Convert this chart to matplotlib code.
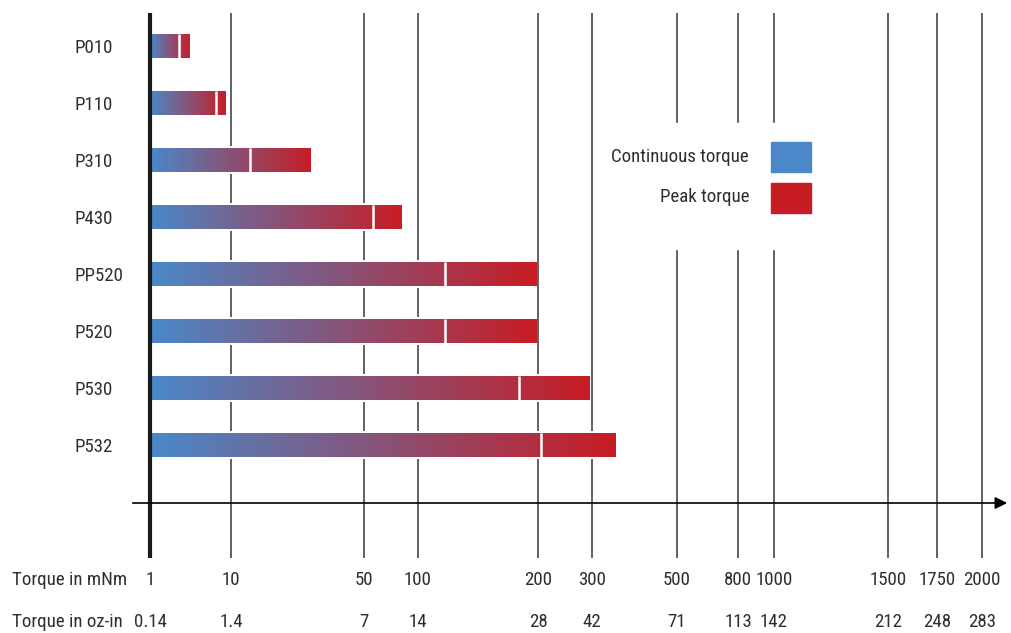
import matplotlib
matplotlib.use("Agg")
import matplotlib.pyplot as plt
import numpy as np
from matplotlib import font_manager as fm
from matplotlib.colors import LinearSegmentedColormap
from matplotlib.patches import Rectangle

# data
models = ['P010', 'P110', 'P310', 'P430', 'PP520', 'P520', 'P530', 'P532']
continuous = [2.3, 6.5, 12.6, 56, 117, 117, 179, 205]
peak = [3.2, 8.9, 26.6, 82, 199, 199, 296, 347]

ticks_mnm = [1, 10, 50, 100, 200, 300, 500, 800, 1000, 1500, 1750, 2000]
ticks_oz = ['0.14', '1.4', '7', '14', '28', '42', '71', '113', '142', '212', '248', '283']

# where each tick sits along the axis (pixels) - the axis is hand spaced
tick_px = np.array([150, 231, 364, 418, 538, 592, 677, 738, 774, 888, 937, 982], dtype=float)
tick_log = np.log10(ticks_mnm)
s0 = (tick_px[1] - tick_px[0]) / (tick_log[1] - tick_log[0])
s1 = (tick_px[-1] - tick_px[-2]) / (tick_log[-1] - tick_log[-2])


def forward(v):
    lv = np.log10(np.clip(np.asarray(v, dtype=float), 1e-9, None))
    p = np.interp(lv, tick_log, tick_px)
    p = np.where(lv < tick_log[0], tick_px[0] + (lv - tick_log[0]) * s0, p)
    p = np.where(lv > tick_log[-1], tick_px[-1] + (lv - tick_log[-1]) * s1, p)
    return p


def inverse(p):
    p = np.asarray(p, dtype=float)
    lv = np.interp(p, tick_px, tick_log)
    lv = np.where(p < tick_px[0], tick_log[0] + (p - tick_px[0]) / s0, lv)
    lv = np.where(p > tick_px[-1], tick_log[-1] + (p - tick_px[-1]) / s1, lv)
    return 10 ** lv


# pick a narrow font if one is there
fam, stretch = 'Roboto', 'normal'
names = {f.name for f in fm.fontManager.ttflist}
if 'Liberation Sans Narrow' in names:
    fam = 'Liberation Sans Narrow'
elif 'Roboto Condensed' in names:
    fam = 'Roboto Condensed'
elif any(f.name == 'DejaVu Sans' and str(f.stretch) in ('condensed', 'semi-condensed', '500')
         for f in fm.fontManager.ttflist):
    fam, stretch = 'DejaVu Sans', 'condensed'
plt.rcParams['font.family'] = [fam, 'DejaVu Sans']
plt.rcParams['font.stretch'] = stretch

txt = '#2e2e2e'
blue = '#4a88c8'
red = '#c81c24'

W, H = 1011, 633
fig = plt.figure(figsize=(W / 100, H / 100), dpi=100)

# size the font so the row label "PP520" is about as wide as in the reference
probe = fig.text(0, 0, 'PP520', fontsize=14)
wpx = probe.get_window_extent(renderer=fig.canvas.get_renderer()).width
probe.remove()
fs = max(12, min(17, 14 * 49 / wpx))
plt.rcParams['font.size'] = fs

ax = fig.add_axes([130 / W, (H - 558) / H, (1010 - 130) / W, (558 - 13) / H])
ax.set_xscale('function', functions=(forward, inverse))

idx = np.arange(len(models))
h = 0.43
cmap = LinearSegmentedColormap.from_list('torque', [blue, red])

# white backing so the grid lines break around each bar
ax.barh(idx, np.array(peak) - 1, left=1, height=0.5, color='white', zorder=2)
for i in idx:
    # colour runs evenly along the drawn bar, not along the data values
    xs = np.linspace(1, peak[i], 2048)
    g = (forward(xs) - forward(1)) / (forward(peak[i]) - forward(1))
    ax.imshow(g.reshape(1, -1), extent=(1, peak[i], i + h / 2, i - h / 2), aspect='auto',
              cmap=cmap, vmin=0, vmax=1, interpolation='bilinear', zorder=3)
ax.vlines(continuous, idx - h / 2, idx + h / 2, color='white', lw=1.8, zorder=4)

xmin, xmax = inverse(130), inverse(1010)
ax.set_xlim(xmin, xmax)
ax.set_ylim((558 - 46) / 57, (13 - 46) / 57)

for sp in ax.spines.values():
    sp.set_visible(False)

ax.set_xticks(ticks_mnm, [str(t) for t in ticks_mnm])
ax.tick_params(axis='x', length=0, pad=22 * 0.72, colors=txt)
for lbl in ax.get_xticklabels():
    lbl.set_va('center')
ax.grid(axis='x', color='#555555', lw=1.3)
ax.set_axisbelow(True)
ax.axvline(1, color='#1a1a1a', lw=3, zorder=5)

ax.set_yticks(idx, models)
ax.tick_params(axis='y', length=0, pad=55 * 0.72, colors=txt)
for lbl in ax.get_yticklabels():
    lbl.set_ha('left')

for v, s in zip(ticks_mnm, ticks_oz):
    ax.text(v, (558 - 622) / 545, s, transform=ax.get_xaxis_transform(),
            ha='center', va='center', color=txt)

fig.text(12 / W, 1 - 580 / H, 'Torque in mNm', ha='left', va='center', color=txt)
fig.text(12 / W, 1 - 622 / H, 'Torque in oz-in', ha='left', va='center', color=txt)

# horizontal axis with arrow
ax.annotate('', xy=(xmax, (503 - 46) / 57), xytext=(xmin, (503 - 46) / 57),
            arrowprops=dict(arrowstyle='-|>', color='black', lw=1.2, mutation_scale=18),
            annotation_clip=False, zorder=6)

# legend box
fig.patches.append(Rectangle((600 / W, 1 - 249 / H), 250 / W, 126 / H,
                             transform=fig.transFigure, color='white', zorder=1))
fig.patches.append(Rectangle((771 / W, 1 - 172 / H), 40 / W, 30 / H,
                             transform=fig.transFigure, color=blue, zorder=2))
fig.patches.append(Rectangle((771 / W, 1 - 213 / H), 40 / W, 30 / H,
                             transform=fig.transFigure, color=red, zorder=2))
fig.text(749 / W, 1 - 157 / H, 'Continuous torque', ha='right', va='center', color=txt, zorder=3)
fig.text(749 / W, 1 - 197 / H, 'Peak torque', ha='right', va='center', color=txt, zorder=3)

fig.savefig('out.png', dpi=100)
